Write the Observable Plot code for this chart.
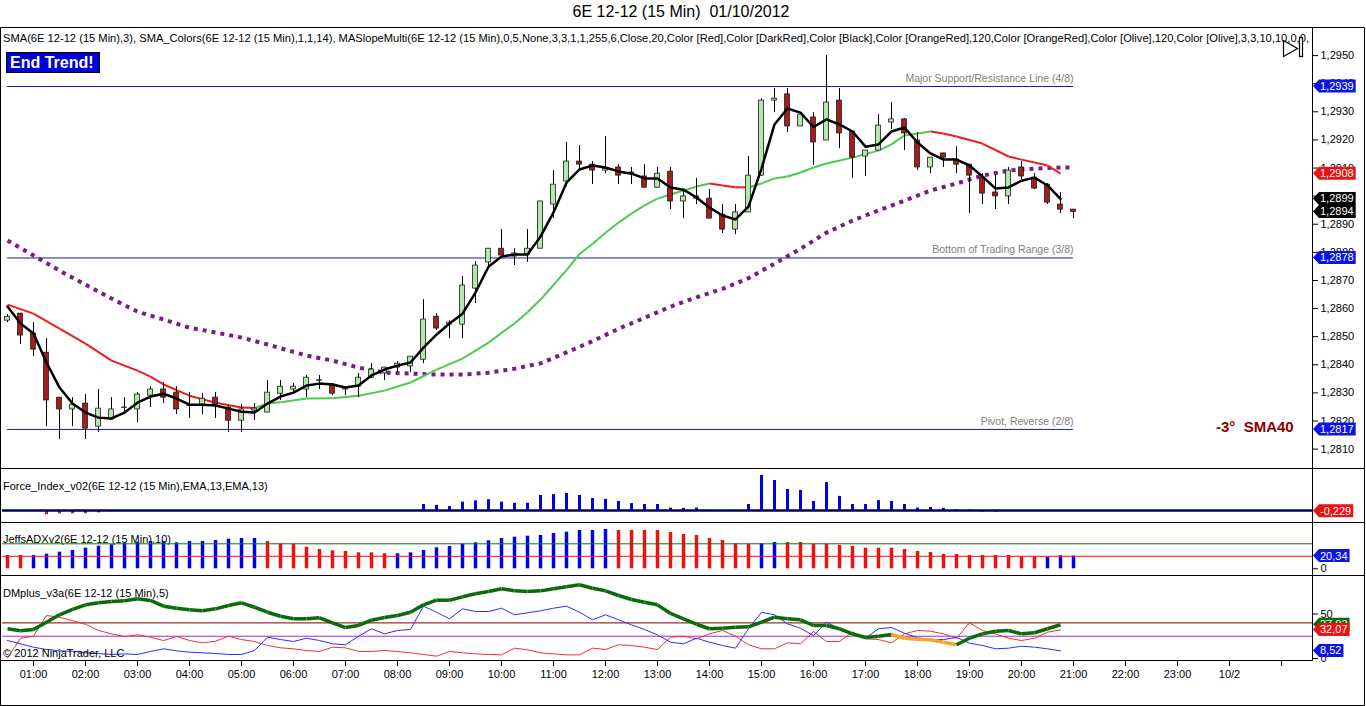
<!DOCTYPE html>
<html><head><meta charset="utf-8">
<script src="https://cdn.jsdelivr.net/npm/d3@7"></script>
<script src="https://cdn.jsdelivr.net/npm/@observablehq/plot@0.6"></script>
<style>
html,body{margin:0;padding:0;background:#fff;}
#root{position:relative;width:1366px;height:706px;overflow:hidden;font-family:Arial,"Liberation Sans",Helvetica,sans-serif;color:#000;}
#root > *{position:absolute;}
</style></head><body><div id="root"></div>
<script>
// ---------------- DATA ----------------
const chartTitle = "6E 12-12 (15 Min)  01/10/2012";
const indicatorText = "SMA(6E 12-12 (15 Min),3), SMA_Colors(6E 12-12 (15 Min),1,1,14), MASlopeMulti(6E 12-12 (15 Min),0,5,None,3,3,1,1,255,6,Close,20,Color [Red],Color [DarkRed],Color [Black],Color [OrangeRed],120,Color [OrangeRed],Color [Olive],120,Color [Olive],3,3,10,10,0,0,";
const firstBarHour = 0.5;      // first bar 00:30
const barHours = 0.25;         // 15-minute bars

const open = [
 1.28557,1.28582,1.28511,1.28443,1.28283,1.28241,1.28262,1.28180,1.28205,1.28246,
 1.28241,1.28290,1.28312,1.28301,1.28254,1.28258,1.28283,1.28248,1.28201,1.28237,
 1.28230,1.28297,1.28312,1.28312,1.28343,1.28330,1.28312,1.28322,1.28354,1.28369,
 1.28390,1.28394,1.28418,1.28571,1.28543,1.28543,1.28671,1.28764,1.28813,1.28785,
 1.28792,1.28813,1.28970,1.29052,1.29123,1.29112,1.29091,1.29102,1.29084,1.29070,
 1.29030,1.29087,1.28981,1.28999,1.28991,1.28934,1.28881,1.28942,1.29073,1.29340,
 1.29362,1.29248,1.29280,1.29198,1.29340,1.29230,1.29141,1.29162,1.29262,1.29273,
 1.29198,1.29102,1.29152,1.29130,1.29112,1.29066,1.29013,1.28999,1.29102,1.29066,
 1.29041,1.28970,1.28952];
const high = [
 1.28579,1.28582,1.28550,1.28493,1.28283,1.28283,1.28294,1.28312,1.28283,1.28283,
 1.28301,1.28322,1.28337,1.28322,1.28301,1.28297,1.28301,1.28258,1.28258,1.28262,
 1.28344,1.28344,1.28333,1.28362,1.28362,1.28330,1.28319,1.28369,1.28404,1.28390,
 1.28411,1.28429,1.28632,1.28582,1.28557,1.28714,1.28767,1.28813,1.28881,1.28813,
 1.28881,1.28981,1.29091,1.29191,1.29180,1.29123,1.29212,1.29112,1.29102,1.29112,
 1.29102,1.29102,1.29020,1.29063,1.29023,1.28970,1.28970,1.29141,1.29347,1.29383,
 1.29383,1.29297,1.29297,1.29500,1.29383,1.29230,1.29162,1.29290,1.29333,1.29276,
 1.29226,1.29137,1.29152,1.29176,1.29112,1.29080,1.29073,1.29102,1.29123,1.29080,
 1.29045,1.29013,1.28952];
const low = [
 1.28550,1.28472,1.28429,1.28180,1.28134,1.28180,1.28134,1.28159,1.28205,1.28223,
 1.28194,1.28248,1.28262,1.28223,1.28209,1.28223,1.28209,1.28159,1.28159,1.28201,
 1.28230,1.28273,1.28301,1.28283,1.28312,1.28290,1.28290,1.28283,1.28351,1.28344,
 1.28372,1.28372,1.28404,1.28522,1.28493,1.28493,1.28618,1.28742,1.28789,1.28753,
 1.28764,1.28813,1.28920,1.29034,1.29091,1.29041,1.29080,1.29041,1.29041,1.29030,
 1.29030,1.28952,1.28920,1.28970,1.28920,1.28867,1.28863,1.28942,1.29070,1.29297,
 1.29226,1.29248,1.29109,1.29198,1.29169,1.29063,1.29070,1.29162,1.29237,1.29162,
 1.29091,1.29080,1.29102,1.29080,1.28938,1.28970,1.28952,1.28970,1.29059,1.29023,
 1.28970,1.28938,1.28920];
const close = [
 1.28571,1.28504,1.28454,1.28273,1.28241,1.28258,1.28173,1.28244,1.28241,1.28248,
 1.28294,1.28312,1.28283,1.28241,1.28256,1.28279,1.28258,1.28201,1.28241,1.28244,
 1.28301,1.28322,1.28322,1.28354,1.28345,1.28297,1.28319,1.28354,1.28383,1.28390,
 1.28404,1.28429,1.28561,1.28529,1.28550,1.28682,1.28753,1.28813,1.28789,1.28796,
 1.28813,1.28981,1.29041,1.29123,1.29112,1.29091,1.29098,1.29073,1.29080,1.29030,
 1.29080,1.28981,1.28999,1.28991,1.28920,1.28881,1.28942,1.29073,1.29340,1.29347,
 1.29248,1.29290,1.29191,1.29333,1.29223,1.29137,1.29162,1.29251,1.29273,1.29223,
 1.29102,1.29137,1.29137,1.29112,1.29073,1.29009,1.28999,1.29091,1.29070,1.29027,
 1.28977,1.28952,1.28944];

// SMA(3), one value per bar up to the last completed bar
const sma3 = [
 1.28607,1.28547,1.28511,1.28408,1.28319,1.28262,1.28230,1.28212,1.28209,1.28230,
 1.28265,1.28287,1.28297,1.28280,1.28258,1.28258,1.28255,1.28244,1.28233,1.28230,
 1.28262,1.28287,1.28301,1.28326,1.28333,1.28330,1.28319,1.28326,1.28362,1.28383,
 1.28397,1.28408,1.28461,1.28507,1.28547,1.28582,1.28657,1.28749,1.28785,1.28792,
 1.28792,1.28856,1.28942,1.29048,1.29095,1.29109,1.29102,1.29088,1.29080,1.29063,
 1.29063,1.29031,1.29023,1.28995,1.28959,1.28931,1.28917,1.28963,1.29098,1.29255,
 1.29312,1.29297,1.29246,1.29273,1.29255,1.29230,1.29176,1.29184,1.29230,1.29244,
 1.29191,1.29152,1.29130,1.29130,1.29109,1.29070,1.29027,1.29031,1.29055,1.29066,
 1.29038,1.28990];

// SMA_Colors (red falling / green rising) read at these bars
const trendBars = [0,2,4,6,8,10,11,12,14,16,18,19,20,21,23,25,27,29,31,33,35,37,39,40,41,42,43,44,45,46,47,48,49,50,51,52,53,54,55,56,57,58,59,60,61,62,63,65,67,68,69,70,71,72,73,75,77,78,79,80,81];
const trendMa = [1.28614,1.28582,1.28529,1.28475,1.28415,1.28379,1.28358,1.28330,1.28290,1.28265,
 1.28248,1.28246,1.28262,1.28267,1.28280,1.28281,1.28290,1.28308,1.28337,1.28383,
 1.28422,1.28479,1.28547,1.28587,1.28632,1.28684,1.28737,1.28794,1.28830,1.28870,
 1.28906,1.28938,1.28967,1.28991,1.29006,1.29020,1.29034,1.29045,1.29038,1.29032,
 1.29031,1.29045,1.29063,1.29070,1.29084,1.29102,1.29116,1.29137,1.29162,1.29184,
 1.29216,1.29223,1.29230,1.29223,1.29212,1.29187,1.29141,1.29130,1.29120,1.29109,1.29080];

// MASlopeMulti dotted line read at these bars
const slopeBars = [0,2,4,6,8,10,12,14,16,18,20,21,23,25,27,29,31,33,35,37,39,41,43,45,47,49,51,53,55,57,59,61,63,65,67,69,71,73,75,77,79,81,82];
const slopeMa = [1.28842,1.28789,1.28735,1.28685,1.28636,1.28589,1.28561,1.28532,1.28515,1.28497,
 1.28472,1.28459,1.28433,1.28415,1.28390,1.28372,1.28369,1.28365,1.28365,1.28372,
 1.28386,1.28405,1.28444,1.28484,1.28528,1.28567,1.28607,1.28640,1.28670,1.28708,
 1.28760,1.28813,1.28870,1.28913,1.28949,1.28984,1.29020,1.29045,1.29073,1.29091,
 1.29098,1.29102,1.29102];

const levelValues = [1.2939, 1.2878, 1.2817];
const levelLabels = ["Major Support/Resistance Line (4/8)", "Bottom of Trading Range (3/8)", "Pivot, Reverse (2/8)"];
const priceTicks = [1.2810,1.2820,1.2830,1.2840,1.2850,1.2860,1.2870,1.2880,1.2890,1.2900,1.2910,1.2920,1.2930,1.2940,1.2950];
const slopeNote = "-3°  SMA40";
const trendBadge = "End Trend!";

// Force Index
const forceLabel = "Force_Index_v02(6E 12-12 (15 Min),EMA,13,EMA,13)";
const forceIndex = [
 -0.1,-0.1,-0.1,-1.4,-1.1,-1.1,-1.1,-0.8,-0.45,-0.35,
 -0.2,-0.15,-0.15,-0.15,-0.1,-0.1,-0.1,-0.1,0,0,
 0,0,0,0,0,0,0,0,0,0,
 0,0,2.0,1.7,1.3,2.8,3.2,3.6,2.8,2.4,
 2.4,5.0,5.3,5.7,5.0,4.0,3.7,3.0,2.3,2.0,
 2.0,0.8,0.7,0.8,0.05,-0.1,0.05,2.0,11.7,10.0,
 7.0,6.7,3.0,9.3,4.7,2.0,2.0,3.3,3.0,2.0,
 0.8,1.0,0.7,0.15,0.1,-0.5,-0.55,-0.1,-0.1,-0.1,
 -0.1,-0.1,-0.229];

// JeffsADXv2
const adxLabel = "JeffsADXv2(6E 12-12 (15 Min),10)";
const adx = [
 21.3,21.3,21.3,23.4,26.6,29.3,33.0,36.2,38.4,41.0,
 42.6,43.7,43.7,41.6,43.7,43.7,45.3,47.4,48.5,48.5,
 43.7,39.4,39.4,34.6,30.9,28.8,27.7,25.6,25.6,24.0,
 24.0,25.6,29.3,33.6,35.7,39.4,41.6,44.8,48.5,50.6,
 52.2,53.3,56.5,58.6,61.3,61.3,62.9,61.3,61.3,61.3,
 61.3,58.1,54.9,53.3,48.5,45.3,40.0,39.4,40.0,42.1,
 42.1,42.1,39.4,39.4,37.3,35.7,33.0,33.0,33.0,30.9,
 27.7,26.1,22.9,22.9,21.3,21.3,21.3,21.3,18.6,18.6,
 18.6,20.8,20.34];
const adxState = ("RR" + "BBBBBBBBBBBBBBBBBB" + "RRRRRRRRRR" + "BBBBBBBBBBBBBBBBB" +
                  "RRRRRRRRRRR" + "BB" + "RRRRRRRRRRRRRRRRRRRR" + "BBB").split("");
const adxLevels = [40, 20];
const adxTicks = [0];

// DMplus_v3a
const dmLabel = "DMplus_v3a(6E 12-12 (15 Min),5)";
const dmTrend = [
 33.4,31.1,32.6,40.8,49.1,55.1,60.3,62.6,64.0,64.8,
 67.1,65.2,58.8,56.5,54.7,53.6,55.8,59.6,62.6,57.6,
 52.0,47.5,44.6,44.6,45.7,40.1,34.8,37.1,43.0,46.1,
 48.3,52.0,60.3,65.5,65.5,69.3,72.7,75.3,78.3,76.1,
 75.3,76.0,78.3,80.6,82.8,79.0,76.1,70.8,66.3,63.3,
 60.3,50.6,44.6,38.5,33.4,34.0,35.2,35.6,40.8,46.4,
 44.6,43.5,37.1,37.1,33.4,27.7,23.6,25.0,27.0,22.8,
 21.7,21.0,18.3,15.4,22.8,27.7,30.7,31.5,27.7,28.9,
 33.4,37.93];
const dmState = ("GGGGGGGGGGGGGGGGGGGGGGGGGGGGGGGGGGGGGGGGGGGGGGGGGGGGGGGGGGGGGGGGGGGGG" + "OOOOO" + "GGGGGGGG").split("");
const diPlus = [
 20.2,16.5,12.7,10.1,8.6,8.2,6.4,5.6,4.5,5.2,
 4.5,7.9,10.9,8.6,7.1,6.4,5.6,4.5,4.5,9.0,
 23.9,21.3,19.1,22.8,20.2,16.5,15.4,25.0,33.4,27.7,
 31.5,32.6,58.8,52.0,44.6,55.8,52.8,52.8,56.5,49.1,
 51.3,53.6,56.5,58.8,52.0,43.5,49.1,43.5,37.8,32.6,
 26.6,18.3,16.5,22.8,18.3,14.6,11.6,33.4,52.0,49.1,
 39.0,34.0,25.8,40.8,33.4,27.7,22.8,33.4,34.8,28.4,
 23.3,21.3,21.3,23.6,17.2,14.6,10.9,11.6,13.8,12.7,
 10.9,8.52];
const diMinus = [
 0.5,22.8,25.0,48.3,46.4,42.4,38.5,31.5,27.7,24.7,
 26.6,23.9,20.2,24.7,20.2,17.6,19.4,25.0,21.3,19.1,
 14.6,12.0,10.9,9.0,7.9,12.7,12.0,7.9,7.9,9.0,
 7.9,6.4,4.5,2.6,7.9,6.4,5.2,4.5,4.1,11.6,
 9.8,6.4,5.2,4.1,4.1,11.6,10.1,15.4,14.6,12.7,
 10.1,23.9,25.0,22.1,27.7,31.5,25.0,15.4,10.9,10.9,
 17.6,16.5,30.3,19.1,19.1,29.6,22.1,21.3,17.6,27.7,
 31.5,30.7,27.7,22.8,40.1,31.5,27.7,22.8,20.2,22.8,
 29.6,32.07];
const dmLevels = [40, 25];
const dmTicks = [0, 50];
const copyright = "© 2012 NinjaTrader, LLC";

// time axis (hours from midnight)
const hourTicks = [1,2,3,4,5,6,7,8,9,10,11,12,13,14,15,16,17,18,19,20,21,22,23,24,25];
const timeLabels = ["01:00","02:00","03:00","04:00","05:00","06:00","07:00","08:00","09:00","10:00",
 "11:00","12:00","13:00","14:00","15:00","16:00","17:00","18:00","19:00","20:00","21:00","22:00","23:00","10/2",""];

// ---------------- RENDER ----------------
const FONT = 'Arial, "Liberation Sans", Helvetica, sans-serif';
const root = document.getElementById("root");
const t = i => firstBarHour + i * barHours;
const xDomain = [0.5 - 5/52, 0.5 + 1305/52];
const N = open.length;
const bodyHalf = 0.046;
const fmt = n => v => v.toFixed(n).replace(".", ",");

function div(text, left, top, css) {
  const d = document.createElement("div");
  d.textContent = text;
  d.style.cssText = "position:absolute;white-space:pre;" + (css || "");
  d.style.left = left + "px"; d.style.top = top + "px";
  root.appendChild(d);
  return d;
}
function panel(top, height, yDomain, marks) {
  const p = Plot.plot({
    width: 1366, height, marginLeft: 2, marginRight: 54, marginTop: 0, marginBottom: 0,
    x: {domain: xDomain, axis: null},
    y: {domain: yDomain, axis: null, label: null},
    color: {type: "identity"},
    style: {background: "transparent", fontFamily: FONT, fontSize: "11px", color: "#000", overflow: "visible"},
    marks
  });
  p.style.position = "absolute"; p.style.left = "0px"; p.style.top = top + "px";
  root.appendChild(p);
  return p;
}
function addTags(plot, items) {
  const ys = plot.scale("y");
  const g = d3.select(plot).append("g").attr("text-anchor", "start");
  for (const it of items) {
    const y = ys.apply(it.v);
    const gg = g.append("g");
    const path = gg.append("path").attr("fill", it.fill);
    const txt = gg.append("text").attr("x", 1320).attr("y", y).attr("dy", "0.36em")
      .attr("text-anchor", "start").attr("fill", "#fff").attr("font-size", 11)
      .attr("font-family", FONT).text(it.label);
    const w = txt.node().getComputedTextLength();
    path.attr("d", `M1313,${y}L1319,${y-6.5}H${1320 + w + 2}V${y+6.5}H1319Z`);
  }
}

// title & labels placed below plots
div(chartTitle, 0, 3, "width:1362px;text-align:center;font-size:16px;");
div(forceLabel, 3, 480, "font-size:11px;line-height:13px;");
div(adxLabel, 3, 533, "font-size:11px;line-height:13px;");
div(dmLabel, 3, 587, "font-size:11px;line-height:13px;");

// main price panel
const bars = open.map((o, i) => ({t: t(i), o, h: high[i], l: low[i], c: close[i]}));
const smaData = sma3.map((v, i) => ({t: t(i), v}));
const slopeData = slopeBars.map((b, k) => ({t: t(b), v: slopeMa[k]}));
const trendSegs = trendBars.slice(1).map((b, k) => ({
  t1: t(trendBars[k]), v1: trendMa[k], t2: t(b), v2: trendMa[k + 1], up: trendMa[k + 1] > trendMa[k]}));
const levels = levelValues.map((v, k) => ({v, label: levelLabels[k]}));

const main = panel(27, 441, [1.28031, 1.29600], [
  Plot.ruleY(levels, {y: "v", x1: t(0), x2: t(N - 1), stroke: "#1a1a9e", strokeWidth: 1}),
  Plot.text(levels, {x: t(N - 1), y: "v", text: "label", textAnchor: "end", dy: -8, fill: "#808080", fontSize: 10.5}),
  Plot.line(slopeData, {x: "t", y: "v", stroke: "#7b1a88", strokeWidth: 4, strokeDasharray: "4,5", strokeLinecap: "butt"}),
  Plot.link(trendSegs, {x1: "t1", y1: "v1", x2: "t2", y2: "v2", stroke: d => d.up ? "#4ccb4c" : "#ee1c1c", strokeWidth: 2}),
  Plot.ruleX(bars, {x: "t", y1: "l", y2: "h", stroke: "#000", strokeWidth: 1}),
  Plot.rect(bars, {x1: d => d.t - bodyHalf, x2: d => d.t + bodyHalf, y1: "o", y2: "c",
    fill: d => d.c >= d.o ? "#b2e8ac" : "#a71d1d", stroke: "#1a1a1a", strokeWidth: 0.8}),
  Plot.line(smaData, {x: "t", y: "v", stroke: "#000", strokeWidth: 2.5}),
  Plot.axisY({anchor: "right", ticks: priceTicks, tickFormat: fmt(4), tickSize: 5, tickPadding: 3, fontSize: 11, label: null})
]);

// force index panel
const forceData = forceIndex.map((v, i) => ({t: t(i), v}));
const force = panel(468, 54, [-4, 14], [
  Plot.ruleX(forceData, {x: "t", y1: 0, y2: "v", stroke: d => d.v >= 0 ? "#0000e6" : "#dc143c", strokeWidth: 3}),
  Plot.ruleY([0], {stroke: "#00005c", strokeWidth: 2.5})
]);

// ADX panel
const adxData = adx.map((v, i) => ({t: t(i), v, s: adxState[i]}));
const adxP = panel(522, 53, [-10.72, 74.08], [
  Plot.ruleX(adxData, {x: "t", y1: 0, y2: "v", stroke: d => d.s === "B" ? "#0000f0" : "#f01010", strokeWidth: 3.5}),
  Plot.ruleY([adxLevels[0]], {stroke: "#0a7a0a", strokeWidth: 1}),
  Plot.ruleY([adxLevels[1]], {stroke: "#ff1010", strokeWidth: 1}),
  Plot.axisY({anchor: "right", ticks: adxTicks, tickSize: 5, tickPadding: 3, fontSize: 11, label: null})
]);

// DMplus panel
const dmIdx = dmTrend.map((_, i) => i);
const dmSegs = dmIdx.slice(1).map(i => ({t1: t(i - 1), v1: dmTrend[i - 1], t2: t(i), v2: dmTrend[i], o: dmState[i] === "O"}));
const dmP = panel(575, 85, [-2.25, 93.26], [
  Plot.ruleY([dmLevels[0]], {stroke: "#7a0000", strokeWidth: 1}),
  Plot.ruleY([dmLevels[1]], {stroke: "#a02cd0", strokeWidth: 1}),
  Plot.line(dmIdx, {x: i => t(i), y: i => diMinus[i], stroke: "#f03030", strokeWidth: 1}),
  Plot.line(dmIdx, {x: i => t(i), y: i => diPlus[i], stroke: "#2d2dff", strokeWidth: 1}),
  Plot.link(dmSegs, {x1: "t1", y1: "v1", x2: "t2", y2: "v2", stroke: d => d.o ? "#f5a623" : "#0b6a0b", strokeWidth: 3.5}),
  Plot.axisY({anchor: "right", ticks: dmTicks, tickSize: 5, tickPadding: 3, fontSize: 11, label: null})
]);

// time axis
const xAxis = Plot.plot({
  width: 1366, height: 46, marginLeft: 2, marginRight: 54, marginTop: 0, marginBottom: 46,
  x: {domain: xDomain, axis: null},
  style: {background: "transparent", fontFamily: FONT, fontSize: "11px", color: "#000", overflow: "visible"},
  marks: [Plot.axisX({anchor: "bottom", ticks: hourTicks, tickFormat: d => timeLabels[hourTicks.indexOf(d)], tickSize: 6, tickPadding: 4, fontSize: 11, label: null})]
});
xAxis.style.position = "absolute"; xAxis.style.left = "0px"; xAxis.style.top = "660px";
root.appendChild(xAxis);

// value tags
addTags(main, [
  ...levelValues.map(v => ({v, fill: "#0a14e6", label: fmt(4)(v)})),
  {v: trendMa[trendMa.length - 1], fill: "#ee1111", label: fmt(4)(trendMa[trendMa.length - 1])},
  {v: sma3[sma3.length - 1], fill: "#000", label: fmt(4)(sma3[sma3.length - 1])},
  {v: close[N - 1], fill: "#000", label: fmt(4)(close[N - 1])}
]);
addTags(force, [{v: forceIndex[N - 1], fill: "#ee1111", label: fmt(3)(forceIndex[N - 1])}]);
addTags(adxP, [{v: adx[N - 1], fill: "#0a14e6", label: fmt(2)(adx[N - 1])}]);
const L = dmTrend.length - 1;
addTags(dmP, [
  {v: dmTrend[L], fill: "#0b6a0b", label: fmt(2)(dmTrend[L])},
  {v: diMinus[L], fill: "#ee1111", label: fmt(2)(diMinus[L])},
  {v: diPlus[L], fill: "#0a14e6", label: fmt(2)(diPlus[L])}
]);

// annotations on top
div(copyright, 3, 647, "font-size:11px;line-height:13px;");
div(trendBadge, 6, 52, "box-sizing:border-box;width:94px;height:21px;background:#0000dd;border:1px solid #000;color:#fff;font-weight:bold;font-size:16px;line-height:19px;padding-left:3px;");
div(slopeNote, 1216, 418, "font-size:15px;font-weight:bold;color:#8b0000;");

// frame, separators, header text and icon
const ov = d3.select(root).append("svg").attr("width", 1366).attr("height", 706)
  .style("position", "absolute").style("left", "0px").style("top", "0px").style("pointer-events", "none");
ov.append("path")
  .attr("d", "M0.5,27.5H1364.5V705.5H0.5Z M0.5,468.5H1364.5 M0.5,522.5H1364.5 M0.5,575.5H1364.5 M0.5,660.5H1312.5 M1312.5,27.5V660.5")
  .attr("fill", "none").attr("stroke", "#000").attr("stroke-width", 1);
ov.append("text").attr("x", 3).attr("y", 42).attr("font-size", 11).attr("font-family", FONT)
  .attr("textLength", 1306).attr("lengthAdjust", "spacingAndGlyphs").text(indicatorText);
ov.append("path").attr("d", "M1283.5,40.5L1297.5,48.5L1283.5,56.5Z").attr("fill", "#fff").attr("stroke", "#000").attr("stroke-width", 1.2);
ov.append("rect").attr("x", 1299.5).attr("y", 37.5).attr("width", 3).attr("height", 19).attr("fill", "#fff").attr("stroke", "#000").attr("stroke-width", 1.2);
</script>
</body></html>
